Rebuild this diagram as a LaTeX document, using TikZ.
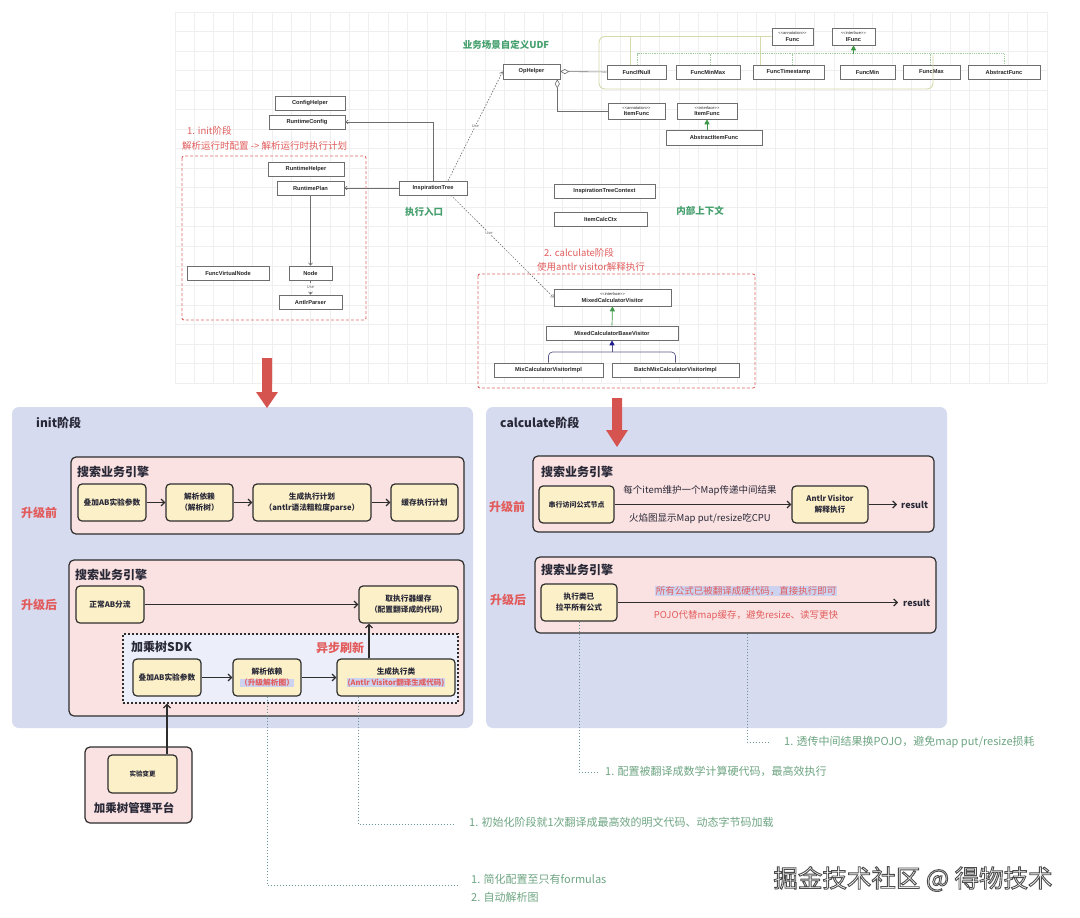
\documentclass[tikz,border=0pt]{standalone}
\usepackage{fontspec}
\setmainfont{Noto Sans CJK SC}
\newfontfamily\umlf{Liberation Sans}
\usetikzlibrary{arrows.meta}
\definecolor{lav}{RGB}{214,219,240}
\definecolor{pinkc}{RGB}{251,226,226}
\definecolor{yelc}{RGB}{252,240,200}
\definecolor{sdkc}{RGB}{236,238,250}
\definecolor{edgec}{RGB}{45,45,45}
\definecolor{redt}{RGB}{226,92,92}
\definecolor{greent}{RGB}{70,160,110}
\definecolor{notet}{RGB}{110,165,130}
\definecolor{dotc}{RGB}{105,150,150}
\definecolor{bigred}{RGB}{214,84,80}
\definecolor{gridc}{RGB}{239,239,239}
\definecolor{umle}{RGB}{110,110,110}
\definecolor{olivec}{RGB}{214,218,170}
\definecolor{impg}{RGB}{60,150,70}
\definecolor{impl}{RGB}{160,205,160}
\definecolor{navyc}{RGB}{30,30,140}
\definecolor{hlc}{RGB}{205,210,238}
\definecolor{titc}{RGB}{40,40,55}
\definecolor{redd}{RGB}{224,102,102}
\newcommand\mkbox[7]{%
 \pgfmathsetmacro\mcx{(#3+#5)/2}%
 \pgfmathsetmacro\mcy{(#4+#6)/2}%
 \pgfmathsetmacro\mww{#5-#3}%
 \pgfmathsetmacro\mhh{#6-#4}%
 \node[#1, minimum width=\mww pt, minimum height=\mhh pt] (#2) at (\mcx,\mcy) {#7};}
\newcommand\stereo{\umlf\mdseries\fontsize{4}{4.5}\selectfont}
\begin{document}
\begin{tikzpicture}[x=1pt,y=-1pt,
 uml/.style={draw=umle, fill=white, line width=0.6pt, inner sep=0pt, align=center, font=\umlf\bfseries\fontsize{5.7}{6.2}\selectfont, text=black!85},
 ua/.style={draw=umle, line width=0.6pt, -{Straight Barb[length=2.5pt,width=4pt]}},
 uselbl/.style={font=\umlf\fontsize{4}{4}\selectfont, text=black!60, fill=white, inner sep=0.4pt},
 panel/.style={fill=lav, rounded corners=7pt, inner sep=0pt},
 pbox/.style={draw=edgec, fill=pinkc, line width=1.2pt, rounded corners=5pt, inner sep=0pt},
 sdk/.style={draw=edgec, fill=sdkc, line width=1.3pt, dash pattern=on 2pt off 2pt, inner sep=0pt},
 ybox/.style={draw=edgec, fill=yelc, line width=1.2pt, rounded corners=4pt, inner sep=1pt, align=center, font=\bfseries\fontsize{7.7}{11}\selectfont, text=titc},
 ttl/.style={font=\bfseries\fontsize{12}{14}\selectfont, text=titc, anchor=west, inner sep=0pt},
 lbl/.style={font=\bfseries\fontsize{12}{14}\selectfont, text=redt, inner sep=0pt},
 ba/.style={draw=edgec, line width=1.2pt, -{Straight Barb[length=3.5pt,width=7pt]}},
 dl/.style={draw=dotc, line width=1pt, dash pattern=on 1.2pt off 1.8pt},
 note/.style={font=\fontsize{11}{18}\selectfont, text=notet, anchor=west, align=left, inner sep=0pt},
 mid/.style={font=\fontsize{9.5}{11}\selectfont, text=titc, inner sep=0pt},
 redmid/.style={font=\fontsize{9.5}{11}\selectfont, text=redt, inner sep=0.8pt},
 res/.style={font=\bfseries\fontsize{9}{10}\selectfont, text=titc, anchor=west, inner sep=0pt},
 grtx/.style={font=\bfseries\fontsize{9.5}{11}\selectfont, text=greent, inner sep=0pt},
 rdtx/.style={font=\fontsize{9.5}{11}\selectfont, text=redt, anchor=west, inner sep=0pt},
 wm/.style={font=\fontsize{24.5}{26}\selectfont, inner sep=0pt}
]
\useasboundingbox (0,0) rectangle (1080,918);
\fill[white] (0,0) rectangle (1080,918);
% grid
\foreach \i in {0,...,45} \draw[gridc, line width=0.6pt] (175+\i*19.378,12) -- (175+\i*19.378,383);
\foreach \j in {0,...,19} \draw[gridc, line width=0.6pt] (175,12+\j*19.526) -- (1047,12+\j*19.526);

% ---------- UML area ----------
\mkbox{uml}{CH}{275}{96}{345}{110}{ConfigHelper}
\mkbox{uml}{RC}{269}{115}{345}{129}{RuntimeConfig}
\mkbox{uml}{RH}{268}{162}{344}{176}{RuntimeHelper}
\mkbox{uml}{RP}{277}{181}{344}{195}{RuntimePlan}
\mkbox{uml}{IT}{399}{181}{467}{195}{InspirationTree}
\mkbox{uml}{FVN}{187}{266}{269}{280}{FuncVirtualNode}
\mkbox{uml}{ND}{289}{266}{332}{280}{Node}
\mkbox{uml}{AP}{279}{295}{342}{309}{AntlrParser}
\mkbox{uml}{OP}{503}{64}{560}{79}{OpHelper}
\mkbox{uml}{FIN}{607}{65}{666}{79}{FuncIfNull}
\mkbox{uml}{FMM}{676}{65}{740}{79}{FuncMinMax}
\mkbox{uml}{FTS}{753}{65}{824}{79}{FuncTimestamp}
\mkbox{uml}{FMI}{840}{65}{895}{79}{FuncMin}
\mkbox{uml}{FMA}{903}{65}{960}{79}{FuncMax}
\mkbox{uml}{AF}{968}{65}{1040}{79}{AbstractFunc}
\mkbox{uml}{FA}{772}{28}{813}{45}{{\stereo <{}<annotation>{}>}\\Func}
\mkbox{uml}{IF}{832}{28}{875}{45}{{\stereo <{}<interface>{}>}\\IFunc}
\mkbox{uml}{IFa}{608}{103}{665}{119}{{\stereo <{}<annotation>{}>}\\ItemFunc}
\mkbox{uml}{IFi}{677}{103}{737}{119}{{\stereo <{}<interface>{}>}\\ItemFunc}
\mkbox{uml}{AIF}{666}{130}{762}{145}{AbstractItemFunc}
\mkbox{uml}{ITC}{554}{184}{655}{198}{InspirationTreeContext}
\mkbox{uml}{ICC}{554}{212}{647}{226}{ItemCalcCtx}
\mkbox{uml}{MCV}{554}{289}{671}{306}{{\stereo <{}<interface>{}>}\\MixedCalculatorVisitor}
\mkbox{uml}{MCB}{546}{326}{678}{340}{MixedCalculatorBaseVisitor}
\mkbox{uml}{MCI}{494}{363}{603}{377}{MixCalculatorVisitorImpl}
\mkbox{uml}{BMC}{612}{363}{739}{377}{BatchMixCalculatorVisitorImpl}

% UML connectors
\draw[ua] (IT.west) -- (RP.east);
\draw[ua] (IT.north) |- (RC.east);
\draw[ua] (RP.south) -- (ND.north);
\draw[ua, dashed] (ND.south) -- node[uselbl]{Use} (AP.north);
\draw[ua, dash pattern=on 1.5pt off 1.5pt] ([xshift=15pt]IT.north) -- node[uselbl, pos=0.5]{Use} (OP.west);
\draw[ua, dash pattern=on 1.5pt off 1.5pt] ([xshift=18pt]IT.south) -- node[uselbl, pos=0.37]{Use} (MCV.west);
\draw[umle, line width=0.6pt, {Diamond[open,length=9pt,width=5pt]}-] (OP.east) -- (FIN.west);
\draw[umle, line width=0.6pt, {Diamond[open,length=9pt,width=5pt]}-] ([xshift=-3pt]OP.south east) |- (IFa.west);
% group of funcs
\coordinate (gc) at (933,55);
\draw[olivec, line width=0.9pt, rounded corners=6pt] (FA.west) -| (599,89) -| (gc);
\draw[olivec, line width=0.8pt] ([xshift=-6pt]FIN.north) -- ([xshift=-6pt]FIN.north |- FA.west);
\draw[olivec, line width=0.8pt] ([xshift=-28pt]FTS.north) -- ([xshift=-28pt]FTS.north |- FA.west);
\coordinate (ij) at (853.5,54);
\draw[impl, line width=0.8pt, densely dotted] ([xshift=1pt]FIN.north) -- ++(0,-11) -| (AF.north);
\foreach \n/\s in {FMM/2,FTS/4,FMA/-1.5} \draw[impl, line width=0.8pt, densely dotted] ([xshift=\s pt]\n.north) -- ++(0,-11);
\draw[impg, line width=0.7pt, -{Triangle[length=5pt,width=5pt]}] (ij) -- (IF.south);
\draw[impg, line width=0.7pt, -{Triangle[length=5pt,width=5pt]}] (IFi.south |- AIF.north) -- (IFi.south);
\draw[impg, line width=0.7pt, -{Triangle[length=5pt,width=5pt]}] (MCB.north) -- (MCV.south);
\coordinate (mj) at (612,352);
\draw[navyc!40!gray, line width=0.7pt, rounded corners=4pt] (MCI.north) |- (mj) -| (BMC.north);
\draw[navyc!40!gray, line width=0.7pt, -{Triangle[length=5pt,width=5pt,color=navyc]}] (mj) -- (MCB.south);

% red dashed groups
\draw[redd, line width=0.9pt, dash pattern=on 3pt off 2pt, rounded corners=2pt] (182,156) rectangle (366,320);
\draw[redd, line width=0.9pt, dash pattern=on 3pt off 2pt, rounded corners=2pt] (478,274) rectangle (755,388);

% UML texts
\node[grtx] at (506,45) {业务场景自定义UDF};
\node[rdtx] at (187,131) {1. init阶段};
\node[rdtx] at (182,146) {解析运行时配置 -> 解析运行时执行计划};
\node[grtx] at (424,212) {执行入口};
\node[grtx] at (700,211) {内部上下文};
\node[rdtx] at (544,253) {2. calculate阶段};
\node[rdtx] at (537,267) {使用antlr visitor解释执行};

% ---------- init panel ----------
\mkbox{panel}{PI}{12}{407}{473}{728}{}
\node[ttl] at (36,423) {init阶段};
\node[lbl] at (39,513) {升级前};
\node[lbl] at (39,605) {升级后};
\mkbox{pbox}{P1}{71}{457}{464}{534}{}
\node[ttl] at (77,472) {搜索业务引擎};
\mkbox{ybox}{a1}{78}{484}{146}{521}{叠加AB实验参数}
\mkbox{ybox}{a2}{166}{484}{233}{521}{解析依赖\\（解析树）}
\mkbox{ybox}{a3}{253}{484}{371}{521}{生成执行计划\\（antlr语法粗粒度parse）}
\mkbox{ybox}{a4}{391}{484}{458}{521}{缓存执行计划}
\draw[ba] (a1) -- (a2);
\draw[ba] (a2) -- (a3);
\draw[ba] (a3) -- (a4);

\mkbox{pbox}{P2}{69}{560}{464}{716}{}
\node[ttl] at (75,575) {搜索业务引擎};
\mkbox{ybox}{b1}{76}{586}{144}{623}{正常AB分流}
\mkbox{ybox}{b2}{359}{586}{458}{623}{取执行器缓存\\（配置翻译成的代码）}
\draw[ba] (b1) -- (b2);
\mkbox{sdk}{SDK}{123}{634}{458}{703}{}
\node[ttl] at (131,647) {加乘树SDK};
\node[lbl] at (340,648) {异步刷新};
\mkbox{ybox}{c1}{133}{659}{201}{696}{叠加AB实验参数}
\mkbox{ybox}{c2}{233}{659}{301}{696}{解析依赖\\{\fboxsep=0.5pt\colorbox{hlc}{\color{redt}（升级解析图）}}}
\mkbox{ybox}{c3}{337}{659}{455}{696}{生成执行类\\{\fontsize{7.5}{11}\selectfont\fboxsep=0.5pt\colorbox{hlc}{\color{redt}(Antlr Visitor翻译生成代码)}}}
\draw[ba] (c1) -- (c2);
\draw[ba] (c2) -- (c3);
\draw[ba] ([xshift=-27pt]c3.north) -- ([xshift=-27pt]c3.north |- b2.south);

% management platform
\mkbox{pbox}{P3}{85}{747}{192}{823}{}
\mkbox{ybox}{d1}{108}{755}{177}{793}{\fontsize{6.5}{8}\selectfont 实验变更}
\node[font=\bfseries\fontsize{11.5}{13}\selectfont, text=titc, inner sep=0pt] at (134,808) {加乘树管理平台};
\draw[ba] ([xshift=24.5pt]d1.north) -- ([xshift=24.5pt]d1.north |- SDK.south);

% ---------- calculate panel ----------
\mkbox{panel}{PC}{486}{407}{947}{728}{}
\node[ttl] at (500,423) {calculate阶段};
\node[lbl] at (507,507) {升级前};
\node[lbl] at (508,600) {升级后};
\mkbox{pbox}{P4}{533}{456}{934}{532}{}
\node[ttl] at (541,472) {搜索业务引擎};
\mkbox{ybox}{e1}{539}{486}{614}{523}{\fontsize{7}{9}\selectfont 串行访问公式节点}
\mkbox{ybox}{e2}{792}{486}{868}{523}{Antlr Visitor\\解释执行}
\draw[ba] (e1) -- (e2);
\node[mid] at (700,491) {每个item维护一个Map传递中间结果};
\node[mid] at (700,519) {火焰图显示Map put/resize吃CPU};
\coordinate (r1) at (897,504.5);
\draw[ba] (e2) -- (r1);
\node[res] at (901,505) {result};

\mkbox{pbox}{P5}{535}{557}{936}{633}{}
\node[ttl] at (541,570) {搜索业务引擎};
\mkbox{ybox}{f1}{541}{584}{617}{621}{执行类已\\拉平所有公式}
\coordinate (r2) at (898,602.5);
\draw[ba] (f1) -- (r2);
\node[res] at (903,603) {result};
\node[redmid, fill=hlc] at (746,591) {所有公式已被翻译成硬代码，直接执行即可};
\node[redmid] at (746,616) {POJO代替map缓存，避免resize、读写更快};

% big red arrows (on top of the panels)
\fill[bigred] (262,358) -- (272,358) -- (272,392) -- (278,392) -- (267,408) -- (256,392) -- (262,392) -- cycle;
\fill[bigred] (612,398) -- (622,398) -- (622,430) -- (628,430) -- (617,447) -- (606,430) -- (612,430) -- cycle;

% ---------- dotted notes ----------
\coordinate (n1) at (457,885);
\coordinate (n2) at (455,824);
\coordinate (n3) at (598,772);
\coordinate (n4) at (768,742);
\draw[dl] (c2.south) |- (n1);
\draw[dl] ([xshift=-38pt]c3.south) |- (n2);
\draw[dl] (f1.south) |- (n3);
\draw[dl] ([xshift=11.5pt]P5.south) |- (n4);
\node[note] at (471,888) {1. 简化配置至只有formulas\\2. 自动解析图};
\node[note] at (469,822) {1. 初始化阶段就1次翻译成最高效的明文代码、动态字节码加载};
\node[note] at (605,771) {1. 配置被翻译成数学计算硬代码，最高效执行};
\node[note] at (784,742) {1. 透传中间结果换POJO，避免map put/resize损耗};

% watermark: white text with a dark outline (text render mode 2)
\node[wm] (wmk) at (913,879) {\color{white}\special{pdf:literal direct 0.3 0.3 0.3 RG 0.9 w 2 Tr}掘金技术社区 @ 得物技术\special{pdf:literal direct 0 Tr}};
\end{tikzpicture}
\end{document}
